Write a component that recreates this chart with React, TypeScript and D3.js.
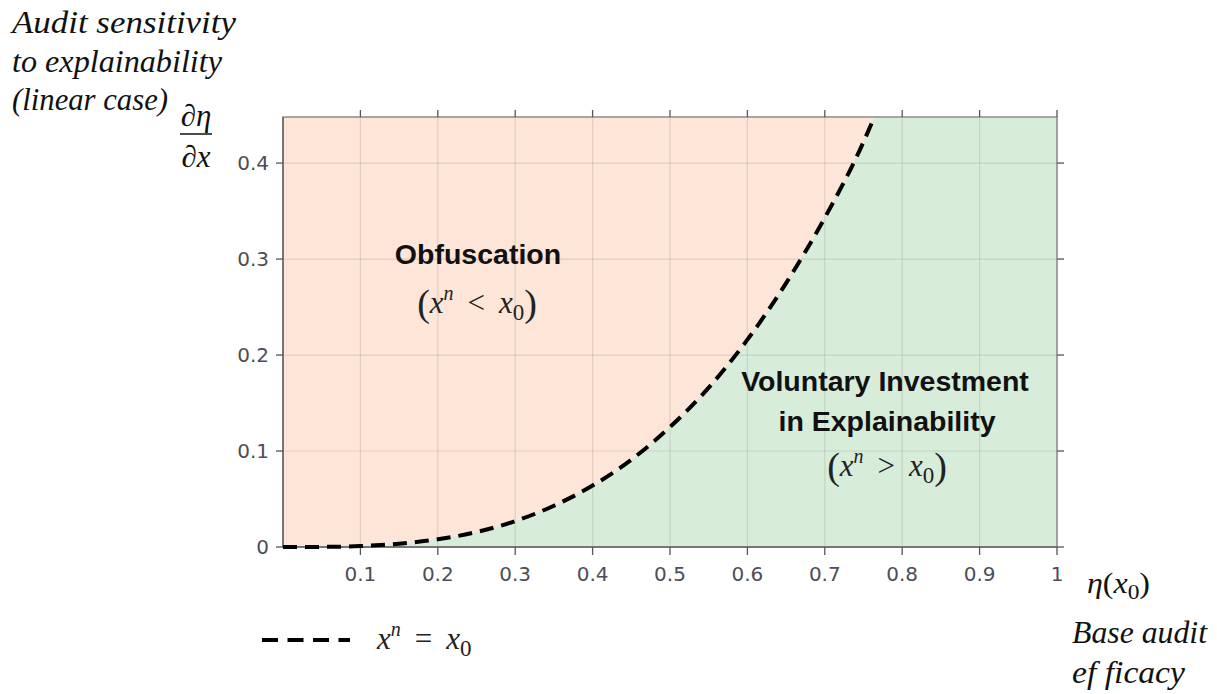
import React from "react";
import * as d3 from "d3";

const xTicks = [0.1, 0.2, 0.3, 0.4, 0.5, 0.6, 0.7, 0.8, 0.9, 1];
const yTicks = [0, 0.1, 0.2, 0.3, 0.4];
const xTickLabels = ["0.1", "0.2", "0.3", "0.4", "0.5", "0.6", "0.7", "0.8", "0.9", "1"];
const yTickLabels = ["0", "0.1", "0.2", "0.3", "0.4"];
// boundary curve x^n = x0
const curveX = [0, 0.05, 0.1, 0.15, 0.2, 0.25, 0.3, 0.35, 0.4, 0.45, 0.5, 0.55, 0.6, 0.65, 0.7, 0.75, 0.764];
const curveY = [0, 0.0001, 0.001, 0.0034, 0.008, 0.0156, 0.027, 0.043, 0.064, 0.091, 0.125, 0.166, 0.216, 0.275, 0.343, 0.422, 0.448];

const W = 1217, H = 694;
const left = 283, right = 1057, top = 117, bottom = 547;
const xMax = 1, yMax = 0.448;

const serif = "'Liberation Serif', 'Times New Roman', serif";
const sans = "'Liberation Sans', Arial, sans-serif";
const tickFont = "'DejaVu Sans', Verdana, sans-serif";

function MathRel({ cx, y, rel }: { cx: number; y: number; rel: string }) {
  return (
    <text x={cx} y={y} textAnchor="middle" fontFamily={serif} fontSize={31} fill="#222">
      <tspan fontSize={38} dy={3}>(</tspan>
      <tspan fontStyle="italic" dy={-3}>x</tspan>
      <tspan fontStyle="italic" fontSize={20} dy={-13}>n</tspan>
      <tspan dy={13}>{"\u2009 " + rel + " \u2009"}</tspan>
      <tspan fontStyle="italic">x</tspan>
      <tspan fontSize={23} dy={7}>0</tspan>
      <tspan fontSize={38} dy={-4}>)</tspan>
    </text>
  );
}

export default function App() {
  const x = d3.scaleLinear().domain([0, xMax]).range([left, right]);
  const y = d3.scaleLinear().domain([0, yMax]).range([bottom, top]);
  const pts: [number, number][] = curveX.map((v, i) => [v, curveY[i]]);
  const line = d3.line<[number, number]>().x(d => x(d[0])).y(d => y(d[1])).curve(d3.curveMonotoneX);
  const area = d3.area<[number, number]>().x(d => x(d[0])).y0(y(0)).y1(d => y(d[1])).curve(d3.curveMonotoneX);
  const lastX = curveX[curveX.length - 1];
  const greenPath = area(pts) + `M${x(lastX)},${y(yMax)}L${x(xMax)},${y(yMax)}L${x(xMax)},${y(0)}L${x(lastX)},${y(0)}Z`;
  const gridCol = "rgba(120,100,90,0.18)";
  const frame = "#8c8c8c";
  return (
    <svg width={W} height={H} style={{ position: "absolute", left: 0, top: 0 }}>
      <rect x={0} y={0} width={W} height={H} fill="#fff" />
      <rect x={left} y={top} width={right - left} height={bottom - top} fill="#fde5d8" />
      <path d={greenPath} fill="#d7edda" />
      {xTicks.map(t => (
        <line key={"gx" + t} x1={x(t)} x2={x(t)} y1={top} y2={bottom} stroke={gridCol} strokeWidth={1.2} />
      ))}
      {yTicks.map(t => (
        <line key={"gy" + t} x1={left} x2={right} y1={y(t)} y2={y(t)} stroke={gridCol} strokeWidth={1.2} />
      ))}
      <rect x={left} y={top} width={right - left} height={bottom - top} fill="none" stroke={frame} strokeWidth={1.5} />
      <line x1={left} x2={left} y1={top} y2={bottom} stroke="#777" strokeWidth={2} />
      <line x1={left} x2={right} y1={bottom} y2={bottom} stroke="#777" strokeWidth={2} />
      {xTicks.map(t => (
        <g key={"tx" + t}>
          <line x1={x(t)} x2={x(t)} y1={bottom} y2={bottom + 8} stroke="#555" strokeWidth={1.3} />
          <line x1={x(t)} x2={x(t)} y1={top} y2={top - 7} stroke="#555" strokeWidth={1.3} />
        </g>
      ))}
      {yTicks.map(t => (
        <g key={"ty" + t}>
          <line x1={left} x2={left - 7} y1={y(t)} y2={y(t)} stroke="#555" strokeWidth={1.3} />
          <line x1={right} x2={right + 7} y1={y(t)} y2={y(t)} stroke="#555" strokeWidth={1.3} />
        </g>
      ))}
      {xTicks.map((t, i) => (
        <text key={"lx" + t} x={x(t)} y={bottom + 34} textAnchor="middle" fontFamily={tickFont} fontSize={20} fill="#4d4d58">{xTickLabels[i]}</text>
      ))}
      {yTicks.map((t, i) => (
        <text key={"ly" + t} x={left - 14} y={y(t) + 7} textAnchor="end" fontFamily={tickFont} fontSize={20} fill="#4d4d58">{yTickLabels[i]}</text>
      ))}
      <path d={line(pts) || ""} fill="none" stroke="#000" strokeWidth={4} strokeDasharray="14 8" />

      {/* region labels */}
      <text x={478} y={264} textAnchor="middle" fontFamily={sans} fontWeight="bold" fontSize={28.5} fill="#111">Obfuscation</text>
      <MathRel cx={477} y={313} rel="<" />
      <text x={885} y={391} textAnchor="middle" fontFamily={sans} fontWeight="bold" fontSize={28.5} fill="#111">Voluntary Investment</text>
      <text x={887} y={431} textAnchor="middle" fontFamily={sans} fontWeight="bold" fontSize={28.5} fill="#111">in Explainability</text>
      <MathRel cx={887} y={476} rel=">" />

      {/* y axis title */}
      <g fontFamily={serif} fontStyle="italic" fontSize={31} fill="#111">
        <text x={12} y={33} textLength={224} lengthAdjust="spacingAndGlyphs">Audit sensitivity</text>
        <text x={12} y={72} textLength={210} lengthAdjust="spacingAndGlyphs">to explainability</text>
        <text x={12} y={110} textLength={156} lengthAdjust="spacingAndGlyphs">(linear case)</text>
      </g>
      <g fontFamily={serif} fontSize={31} fill="#111">
        <text x={196} y={126} textAnchor="middle"><tspan>∂</tspan><tspan fontStyle="italic">η</tspan></text>
        <line x1={180} x2={212} y1={134} y2={134} stroke="#111" strokeWidth={1.5} />
        <text x={196} y={167} textAnchor="middle"><tspan>∂</tspan><tspan fontStyle="italic">x</tspan></text>
      </g>

      {/* x axis title */}
      <text x={1087} y={593} fontFamily={serif} fontSize={30} fill="#111" textLength={63} lengthAdjust="spacingAndGlyphs">
        <tspan fontStyle="italic">η</tspan><tspan>(</tspan><tspan fontStyle="italic">x</tspan><tspan fontSize={22} dy={6}>0</tspan><tspan dy={-6}>)</tspan>
      </text>
      <g fontFamily={serif} fontStyle="italic" fontSize={31} fill="#111">
        <text x={1072} y={643} textLength={135} lengthAdjust="spacingAndGlyphs">Base audit</text>
        <text x={1072} y={683} textLength={113} lengthAdjust="spacingAndGlyphs">ef ficacy</text>
      </g>

      {/* legend */}
      <line x1={262} x2={350} y1={640} y2={640} stroke="#000" strokeWidth={4} strokeDasharray="16 9.5" />
      <text x={377} y={649} fontFamily={serif} fontSize={31} fill="#222">
        <tspan fontStyle="italic">x</tspan>
        <tspan fontStyle="italic" fontSize={20} dy={-13}>n</tspan>
        <tspan dy={13}>{"\u2009 = \u2009"}</tspan>
        <tspan fontStyle="italic">x</tspan>
        <tspan fontSize={23} dy={7}>0</tspan>
      </text>
    </svg>
  );
}
